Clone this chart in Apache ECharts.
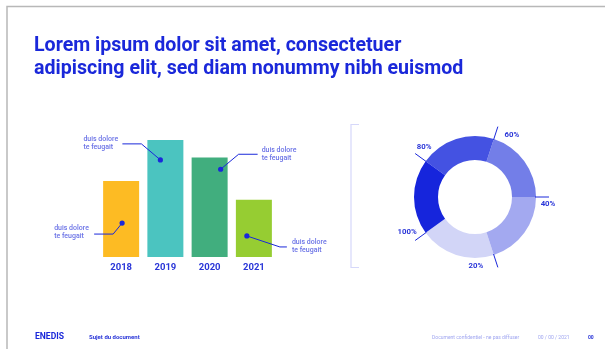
<!DOCTYPE html>
<html>
<head>
<meta charset="utf-8">
<script src="https://cdn.jsdelivr.net/npm/echarts@6/dist/echarts.min.js"></script>
<style>
  html, body { margin: 0; padding: 0; background: #ffffff; }
  #chart { width: 605px; height: 349px; }
</style>
</head>
<body>
<div id="chart"></div>
<script>
// Bar chart data
const categories = ['2018', '2019', '2020', '2021'];
const barValues = [65, 100, 85, 49];
// Value on each bar where its callout dot sits
const calloutAt = [29, 83, 75, 18];
const calloutText = 'duis dolore\nte feugait';

// Donut data (five equal steps, labelled with the running total)
const donutValues = [20, 20, 20, 20, 20];
const donutLabels = ['20%', '40%', '60%', '80%', '100%'];

const titleLines = ['Lorem ipsum dolor sit amet, consectetuer', 'adipiscing elit, sed diam nonummy nibh euismod'];

const BLUE = '#1a28da';
const FONT = 'Roboto';
const barColors = ['#fdbb23', '#4bc4c0', '#41ae7e', '#96cd32'];
const donutColors = ['#d2d5f7', '#a3a9f0', '#737ee8', '#4452e2', '#1625dc'];

// Leader geometry for each bar callout, relative to the dot
const calloutLayout = [
  { dx: 1,  elbow: [-9, 11],  end: [-28, 11],  text: [-68, 9] },
  { dx: -5, elbow: [-19, -16], end: [-38, -16], text: [-77, -16.5] },
  { dx: 11, elbow: [18, -15], end: [37, -15],  text: [41, -15.5] },
  { dx: -7, elbow: [33, 11],  end: [40, 11],   text: [45, 10.5] }
];

// Donut geometry
const donutCenter = [475, 197];
const donutRadius = [37, 61];
const donutStart = 216;
const tickR = [60, 74];
const donutLabelOffset = [[-22, -1], [-1, 7], [14, 8], [9, -6], [-8, -8]];

const chart = echarts.init(document.getElementById('chart'), null, { renderer: 'canvas' });

// Boundary ticks and labels around the donut, from the cumulative values
const donutGraphics = [];
const total = donutValues.reduce((a, b) => a + b, 0);
let cum = 0;
donutValues.forEach((v, i) => {
  cum += v;
  const ang = (donutStart + cum / total * 360) * Math.PI / 180;
  const c = Math.cos(ang), s = Math.sin(ang);
  const x1 = donutCenter[0] + tickR[0] * c, y1 = donutCenter[1] - tickR[0] * s;
  const x2 = donutCenter[0] + tickR[1] * c, y2 = donutCenter[1] - tickR[1] * s;
  donutGraphics.push({
    type: 'line', z: 20, silent: true,
    shape: { x1: x1, y1: y1, x2: x2, y2: y2 },
    style: { stroke: BLUE, lineWidth: 1 }
  });
  donutGraphics.push({
    type: 'text', z: 20, silent: true,
    x: x2 + donutLabelOffset[i][0], y: y2 + donutLabelOffset[i][1],
    style: {
      text: donutLabels[i], fill: '#2a36d8', font: 'bold 7.8px ' + FONT,
      textAlign: 'center', textVerticalAlign: 'middle'
    }
  });
});

const option = {
  backgroundColor: '#ffffff',
  animation: false,
  title: {
    text: titleLines.join('\n'),
    left: 29, top: 30,
    textStyle: {
      color: BLUE, fontFamily: FONT, fontWeight: 'bold',
      fontSize: 19.6, lineHeight: 23
    }
  },
  grid: { left: 99, top: 140, width: 177, height: 117 },
  xAxis: {
    type: 'category',
    data: categories,
    axisLine: { show: false },
    axisTick: { show: false },
    axisLabel: {
      color: '#2a36d8', fontFamily: FONT, fontWeight: 'bold',
      fontSize: 9.5, margin: 6
    }
  },
  yAxis: {
    type: 'value', min: 0, max: 100,
    show: false, splitLine: { show: false }
  },
  series: [
    {
      type: 'bar',
      barWidth: 36,
      silent: true,
      data: barValues.map((v, i) => ({ value: v, itemStyle: { color: barColors[i] } }))
    },
    {
      type: 'custom',
      silent: true,
      z: 10,
      data: calloutAt.map((v, i) => [i, v]),
      renderItem: function (params, api) {
        const idx = params.dataIndex;
        const L = calloutLayout[idx];
        const p = api.coord([api.value(0), api.value(1)]);
        const x = p[0] + L.dx, y = p[1];
        return {
          type: 'group',
          children: [
            {
              type: 'polyline',
              shape: { points: [[x, y], [x + L.elbow[0], y + L.elbow[1]], [x + L.end[0], y + L.end[1]]] },
              style: { stroke: BLUE, lineWidth: 1, fill: null }
            },
            {
              type: 'circle',
              shape: { cx: x, cy: y, r: 2.6 },
              style: { fill: BLUE }
            },
            {
              type: 'text',
              x: x + L.text[0], y: y + L.text[1],
              style: {
                text: calloutText, fill: '#6a72e6',
                font: '500 7px ' + FONT, lineHeight: 8,
                textAlign: 'left', textVerticalAlign: 'middle'
              }
            }
          ]
        };
      }
    },
    {
      type: 'pie',
      silent: true,
      center: donutCenter,
      radius: donutRadius,
      startAngle: donutStart,
      clockwise: false,
      label: { show: false },
      labelLine: { show: false },
      data: donutValues.map((v, i) => ({ value: v, name: donutLabels[i], itemStyle: { color: donutColors[i] } }))
    }
  ],
  graphic: [
    // page frame
    { type: 'polyline', silent: true, shape: { points: [[7, 349], [7, 6.5], [605, 6.5]] },
      style: { stroke: '#b8b8b8', lineWidth: 1.5, fill: null } },
    // divider bracket
    { type: 'polyline', silent: true, shape: { points: [[359, 124.5], [351, 124.5], [351, 267.5], [359, 267.5]] },
      style: { stroke: '#d6d8fa', lineWidth: 1.2, fill: null } },
    // footer
    { type: 'text', silent: true, x: 35, y: 337, scaleX: 0.95,
      style: { text: 'ENEDIS', fill: BLUE, font: 'bold 9px ' + FONT, textVerticalAlign: 'middle' } },
    { type: 'text', silent: true, x: 89, y: 337,
      style: { text: 'Sujet du document', fill: '#2a36d8', font: 'bold 6px ' + FONT, textVerticalAlign: 'middle' } },
    { type: 'text', silent: true, x: 432, y: 338,
      style: { text: 'Document confidentiel - ne pas diffuser', fill: '#a0a6f0', font: '5px ' + FONT, textVerticalAlign: 'middle' } },
    { type: 'text', silent: true, x: 538, y: 338,
      style: { text: '00 / 00 / 2021', fill: '#a0a6f0', font: '5px ' + FONT, textVerticalAlign: 'middle' } },
    { type: 'text', silent: true, x: 588, y: 338,
      style: { text: '00', fill: '#2a36d8', font: 'bold 5px ' + FONT, textVerticalAlign: 'middle' } }
  ].concat(donutGraphics)
};

chart.setOption(option);
</script>
</body>
</html>
